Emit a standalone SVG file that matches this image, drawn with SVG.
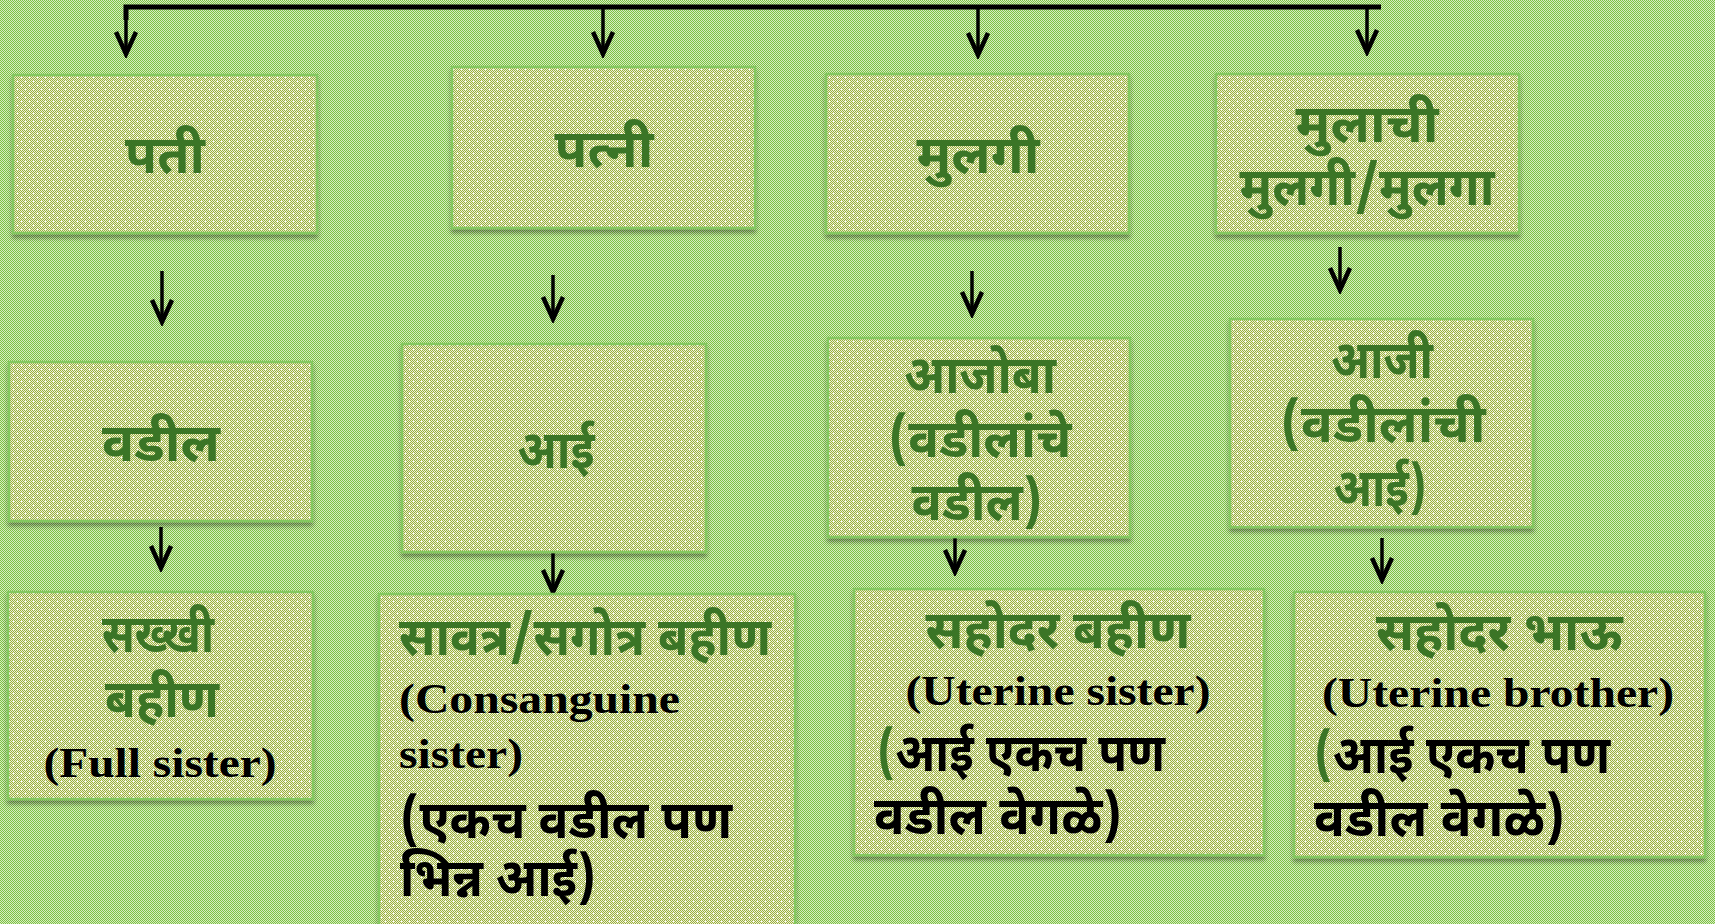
<svg xmlns="http://www.w3.org/2000/svg" width="1715" height="924" viewBox="0 0 1715 924">
<style>
.box{fill:url(#boxfill);stroke:#84c861;stroke-width:2.5;filter:url(#sh)}
.dv{font-family:"Noto Sans Devanagari","Lohit Devanagari","Noto Sans",sans-serif;font-weight:bold;font-size:53px}
.en{font-family:"Liberation Serif","Times New Roman",serif;font-weight:bold;font-size:43px}
.g{fill:#3b7526}
.k{fill:#000}
.c{stroke:#000;stroke-width:3.5;fill:none}
.top{stroke:#000;stroke-width:5;fill:none}
</style>
<defs>
<pattern id="bg" width="2" height="2" patternUnits="userSpaceOnUse"><rect width="2" height="2" fill="#d6ecc2"/><rect width="1" height="1" fill="#7dc243"/><rect x="1" y="1" width="1" height="1" fill="#7dc243"/></pattern>
<pattern id="chk" width="2" height="2" patternUnits="userSpaceOnUse"><rect width="2" height="2" fill="#eef0d6"/><rect width="1" height="1" fill="#99b03c"/><rect x="1" y="1" width="1" height="1" fill="#99b03c"/></pattern>
<pattern id="boxfill" width="8" height="8" patternUnits="userSpaceOnUse"><rect width="8" height="8" fill="url(#chk)"/><rect x="1" y="1" width="1" height="1" fill="#fff"/><rect x="5" y="5" width="1" height="1" fill="#fff"/></pattern>
<filter id="sh" x="-5%" y="-5%" width="110%" height="115%"><feDropShadow dx="0" dy="4" stdDeviation="2" flood-color="#000" flood-opacity="0.35"/></filter>
<marker id="ah" viewBox="-26 -13 30 26" markerWidth="30" markerHeight="26" refX="0" refY="0" orient="auto" markerUnits="userSpaceOnUse"><path d="M-22,-10 L0,0 L-22,10" fill="none" stroke="#000" stroke-width="4.5"/></marker>
</defs>
<rect width="1715" height="924" fill="url(#bg)"/>
<g id="connectors">
<path class="top" d="M126,20 V7 H1381"/>
<line class="c" x1="126" y1="7" x2="126" y2="54" marker-end="url(#ah)"/>
<line class="c" x1="603" y1="7" x2="603" y2="54" marker-end="url(#ah)"/>
<line class="c" x1="978" y1="7" x2="978" y2="55" marker-end="url(#ah)"/>
<line class="c" x1="1367" y1="7" x2="1367" y2="52" marker-end="url(#ah)"/>
<line class="c" x1="162" y1="271" x2="162" y2="322" marker-end="url(#ah)"/>
<line class="c" x1="553" y1="275" x2="553" y2="319" marker-end="url(#ah)"/>
<line class="c" x1="972" y1="271" x2="972" y2="314" marker-end="url(#ah)"/>
<line class="c" x1="1340" y1="247" x2="1340" y2="290" marker-end="url(#ah)"/>
<line class="c" x1="161" y1="527" x2="161" y2="568" marker-end="url(#ah)"/>
<line class="c" x1="553" y1="552" x2="553" y2="592" marker-end="url(#ah)"/>
<line class="c" x1="955" y1="530" x2="955" y2="572" marker-end="url(#ah)"/>
<line class="c" x1="1382" y1="538" x2="1382" y2="580" marker-end="url(#ah)"/>
</g>
<g id="n-pati"><rect class="box" x="13" y="75" width="304" height="158"/>
<text class="dv g" x="165" y="173" text-anchor="middle" textLength="80" lengthAdjust="spacingAndGlyphs">पती</text></g>
<g id="n-patni"><rect class="box" x="452" y="67" width="303" height="161"/>
<text class="dv g" x="604" y="167" text-anchor="middle" textLength="99" lengthAdjust="spacingAndGlyphs">पत्नी</text></g>
<g id="n-mulgi"><rect class="box" x="826" y="74" width="303" height="159"/>
<text class="dv g" x="978" y="173" text-anchor="middle" textLength="123" lengthAdjust="spacingAndGlyphs">मुलगी</text></g>
<g id="n-mulachi"><rect class="box" x="1216" y="74" width="303" height="159"/>
<text class="dv g" x="1367" y="142" text-anchor="middle" textLength="143" lengthAdjust="spacingAndGlyphs">मुलाची</text>
<text class="dv g" x="1367" y="205" text-anchor="middle" textLength="255" lengthAdjust="spacingAndGlyphs">मुलगी/मुलगा</text></g>
<g id="n-vadil"><rect class="box" x="9" y="362" width="303" height="159"/>
<text class="dv g" x="161" y="461" text-anchor="middle" textLength="118" lengthAdjust="spacingAndGlyphs">वडील</text></g>
<g id="n-aai"><rect class="box" x="402" y="344" width="304" height="208"/>
<text class="dv g" x="556" y="468" text-anchor="middle" textLength="77" lengthAdjust="spacingAndGlyphs">आई</text></g>
<g id="n-ajoba"><rect class="box" x="828" y="338" width="302" height="199"/>
<text class="dv g" x="980" y="393" text-anchor="middle" textLength="152" lengthAdjust="spacingAndGlyphs">आजोबा</text>
<text class="dv g" x="980" y="457" text-anchor="middle" textLength="183" lengthAdjust="spacingAndGlyphs">(वडीलांचे</text>
<text class="dv g" x="977" y="520" text-anchor="middle" textLength="131" lengthAdjust="spacingAndGlyphs">वडील)</text></g>
<g id="n-aaji"><rect class="box" x="1230" y="319" width="303" height="208"/>
<text class="dv g" x="1382" y="378" text-anchor="middle" textLength="102" lengthAdjust="spacingAndGlyphs">आजी</text>
<text class="dv g" x="1383" y="442" text-anchor="middle" textLength="205" lengthAdjust="spacingAndGlyphs">(वडीलांची</text>
<text class="dv g" x="1380" y="506" text-anchor="middle" textLength="93" lengthAdjust="spacingAndGlyphs">आई)</text></g>
<g id="n-sakhkhi"><rect class="box" x="8" y="592" width="305" height="207"/>
<text class="dv g" x="158" y="652" text-anchor="middle" textLength="112" lengthAdjust="spacingAndGlyphs">सख्खी</text>
<text class="dv g" x="162" y="717" text-anchor="middle" textLength="114" lengthAdjust="spacingAndGlyphs">बहीण</text>
<text class="en k" x="160" y="777" text-anchor="middle" textLength="233" lengthAdjust="spacingAndGlyphs">(Full sister)</text></g>
<g id="n-savatra"><rect class="box" x="379" y="594" width="416" height="340"/>
<text class="dv g" x="399" y="655" textLength="372" lengthAdjust="spacingAndGlyphs">सावत्र/सगोत्र बहीण</text>
<text class="en k" x="399" y="713" textLength="281" lengthAdjust="spacingAndGlyphs">(Consanguine</text>
<text class="en k" x="399" y="768" textLength="124" lengthAdjust="spacingAndGlyphs">sister)</text>
<text class="dv k" x="400" y="838" textLength="332" lengthAdjust="spacingAndGlyphs">(एकच वडील पण</text>
<text class="dv k" x="400" y="896" textLength="196" lengthAdjust="spacingAndGlyphs">भिन्न आई)</text></g>
<g id="n-sahodar-bahin"><rect class="box" x="854" y="589" width="410" height="266"/>
<text class="dv g" x="1058" y="648" text-anchor="middle" textLength="265" lengthAdjust="spacingAndGlyphs">सहोदर बहीण</text>
<text class="en k" x="1058" y="705" text-anchor="middle" textLength="305" lengthAdjust="spacingAndGlyphs">(Uterine sister)</text>
<text class="dv k" x="877" y="771" textLength="288" lengthAdjust="spacingAndGlyphs"><tspan class="g">(</tspan>आई एकच पण</text>
<text class="dv k" x="874" y="834" textLength="248" lengthAdjust="spacingAndGlyphs">वडील वेगळे)</text></g>
<g id="n-sahodar-bhau"><rect class="box" x="1294" y="592" width="411" height="265"/>
<text class="dv g" x="1499" y="650" text-anchor="middle" textLength="246" lengthAdjust="spacingAndGlyphs">सहोदर भाऊ</text>
<text class="en k" x="1498" y="707" text-anchor="middle" textLength="352" lengthAdjust="spacingAndGlyphs">(Uterine brother)</text>
<text class="dv k" x="1314" y="773" textLength="296" lengthAdjust="spacingAndGlyphs"><tspan class="g">(</tspan>आई एकच पण</text>
<text class="dv k" x="1314" y="836" textLength="251" lengthAdjust="spacingAndGlyphs">वडील वेगळे)</text></g>
</svg>
